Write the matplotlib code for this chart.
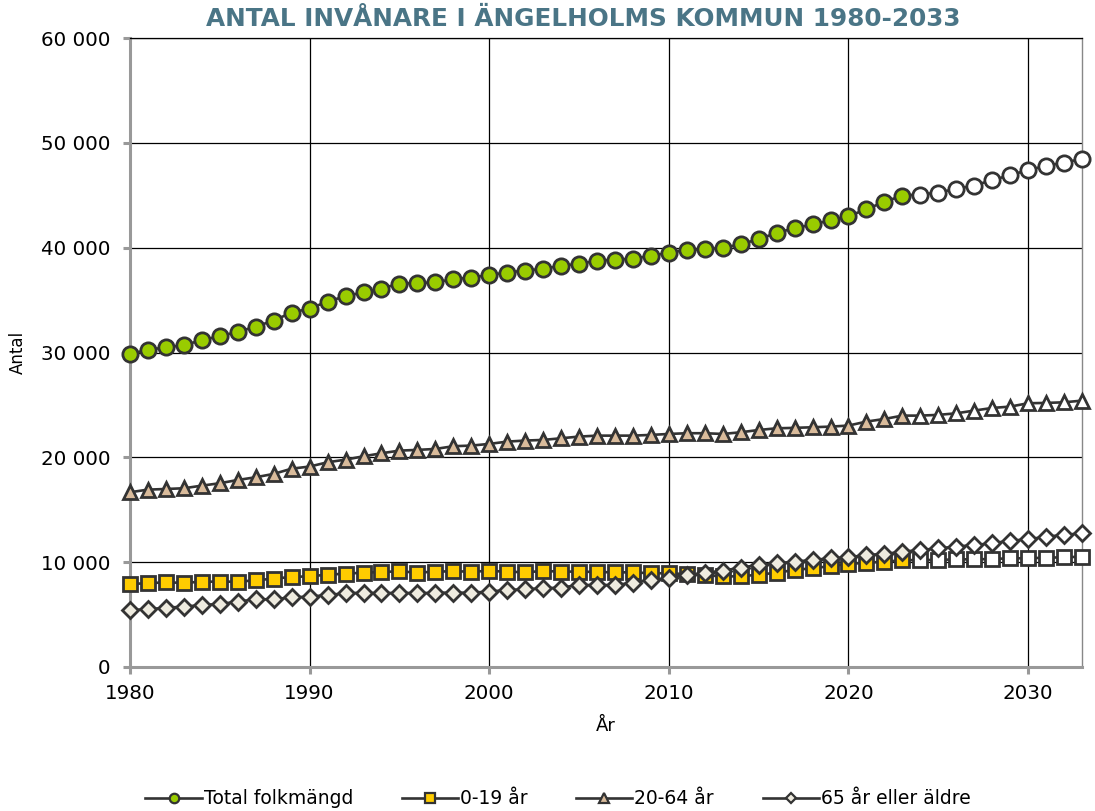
import matplotlib
matplotlib.use("Agg")
import matplotlib.pyplot as plt
from matplotlib.lines import Line2D
from matplotlib.ticker import FuncFormatter, MultipleLocator

years = list(range(1980, 2034))

total = [29870, 30250, 30500, 30700, 31180, 31560, 31970, 32470, 33050, 33810,
         34190, 34860, 35370, 35750, 36100, 36580, 36610, 36700, 36990, 37150,
         37400, 37630, 37820, 37980, 38290, 38450, 38770, 38840, 38960, 39220,
         39530, 39790, 39850, 39980, 40330, 40810, 41410, 41860, 42210, 42620,
         43000, 43670, 44370, 44970, 45070, 45260, 45610, 45930, 46440, 46920,
         47400, 47810, 48120, 48470]

age_0_19 = [7920, 7990, 8080, 8020, 8140, 8140, 8140, 8270, 8430, 8590,
            8650, 8810, 8900, 9000, 9060, 9130, 9000, 9100, 9130, 9100,
            9160, 9100, 9030, 9160, 9100, 9100, 9060, 9030, 9030, 8940,
            8940, 8860, 8760, 8640, 8650, 8810, 8990, 9260, 9420, 9620,
            9840, 9940, 10050, 10180, 10210, 10210, 10270, 10270, 10300, 10370,
            10370, 10430, 10460, 10530]

age_20_64 = [16670, 16920, 16980, 17050, 17300, 17530, 17840, 18100, 18420, 18920,
             19120, 19530, 19780, 20100, 20390, 20640, 20710, 20800, 21060, 21120,
             21280, 21500, 21600, 21660, 21820, 21980, 22070, 22070, 22070, 22140,
             22230, 22300, 22300, 22230, 22390, 22610, 22770, 22810, 22870, 22930,
             23030, 23410, 23660, 23980, 23980, 24050, 24200, 24460, 24710, 24840,
             25160, 25190, 25250, 25410]

age_65 = [5440, 5500, 5660, 5750, 5920, 6010, 6230, 6460, 6460, 6650,
          6710, 6870, 7030, 7090, 7030, 7090, 7030, 7090, 7090, 7090,
          7190, 7350, 7410, 7510, 7570, 7820, 7820, 7820, 8040, 8300,
          8460, 8780, 8940, 9190, 9480, 9730, 9890, 10050, 10210, 10370,
          10460, 10690, 10780, 11000, 11160, 11320, 11480, 11640, 11800, 12050,
          12180, 12430, 12600, 12760]

series_labels = ["Total folkmängd", "0-19 år", "20-64 år", "65 år eller äldre"]
last_actual_year = 2023

title = "ANTAL INVÅNARE I ÄNGELHOLMS KOMMUN 1980-2033"

plt.rcParams['font.family'] = ['DejaVu Sans']

fig = plt.figure(figsize=(10.95, 8.11), dpi=100)
ax = fig.add_axes([130/1095, 1 - 667/811, (1082-130)/1095, (667-38)/811])

edge = "#333333"
styles = [
    (total, "o", "#99CC00", 11),
    (age_0_19, "s", "#FFCC00", 10.5),
    (age_20_64, "^", "#D9BB9B", 10.5),
    (age_65, "D", "#EEEBDF", 8.2),
]

split = years.index(last_actual_year) + 1
handles = []
for (vals, mk, col, ms), lab in zip(styles, series_labels):
    ax.plot(years, vals, "-", color=edge, lw=1.9, zorder=3,
            solid_joinstyle="round", clip_on=False)
    ax.plot(years[:split], vals[:split], linestyle="none", marker=mk, ms=ms,
            mfc=col, mec=edge, mew=2.0, zorder=3, clip_on=False)
    ax.plot(years[split:], vals[split:], linestyle="none", marker=mk, ms=ms,
            mfc="white", mec=edge, mew=2.0, zorder=3, clip_on=False)
    handles.append(Line2D([0], [0], color=edge, lw=1.9, marker=mk,
                          ms=ms * 0.62, mfc=col, mec=edge, mew=1.6))

ax.set_xlim(1980, 2033)
ax.set_ylim(0, 60000)
ax.xaxis.set_major_locator(MultipleLocator(10))
ax.yaxis.set_major_locator(MultipleLocator(10000))
ax.yaxis.set_major_formatter(FuncFormatter(lambda v, p: f"{int(v):,}".replace(",", " ")))

ax.grid(True, color="black", lw=0.9, zorder=1)
ax.set_axisbelow(True)

for s in ["left", "bottom"]:
    ax.spines[s].set_color("#999999")
    ax.spines[s].set_linewidth(2.2)
ax.spines["top"].set_color("black")
ax.spines["top"].set_linewidth(0.9)
ax.spines["right"].set_color("#888888")
ax.spines["right"].set_linewidth(1.0)

ax.tick_params(axis="both", direction="out", length=5, width=2.2, color="#999999",
               labelsize=14.3, labelcolor="black")
ax.tick_params(axis="y", pad=9)
ax.tick_params(axis="x", pad=7)

ax.set_xlabel("År", fontsize=13, labelpad=10)
ax.set_ylabel("Antal", fontsize=12, labelpad=10)

fig.text(583/1095, 1 - 19/811, title, ha="center", va="center",
         fontsize=17.8, fontweight="bold", color="#4A7586")

fig.legend(handles=handles, labels=series_labels, loc="center",
           bbox_to_anchor=(558/1095, 1 - 799/811), ncol=4, frameon=False,
           fontsize=13.5, handlelength=3.0, handletextpad=0.1, columnspacing=2.6)

fig.savefig("out.png", dpi=100)
